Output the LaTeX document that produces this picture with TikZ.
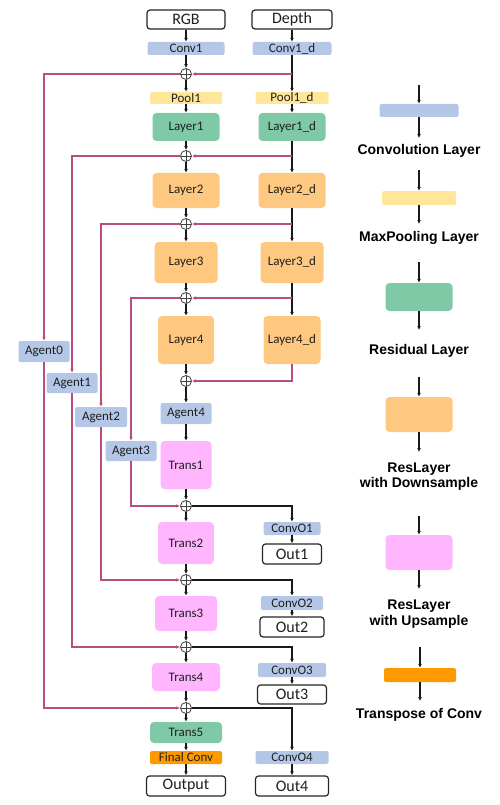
\documentclass[tikz,border=0pt]{standalone}
\usepackage{fontspec}
\setmainfont{Carlito}
\newfontfamily\legfont{Liberation Sans}
\usetikzlibrary{arrows.meta,calc}
\definecolor{cblue}{HTML}{B4C7E7}
\definecolor{cyel}{HTML}{FFE699}
\definecolor{cgreen}{HTML}{80C9A6}
\definecolor{corange}{HTML}{FFC880}
\definecolor{cpink}{HTML}{FFB6FF}
\definecolor{cdark}{HTML}{FF9900}
\definecolor{cmag}{HTML}{B84E80}
\newcommand\nsmall{\fontsize{13}{15}\selectfont}
\newcommand\nbig{\fontsize{16}{18}\selectfont}
\newcommand\nleg{\legfont\bfseries\fontsize{14}{15.5}\selectfont}
\tikzset{
  blk/.style={inner sep=0pt, text=black!88, font=\nsmall},
  convb/.style={blk, fill=cblue, rounded corners=2pt},
  poolb/.style={blk, fill=cyel, rounded corners=1.5pt},
  greenb/.style={blk, fill=cgreen, rounded corners=4pt},
  orangeb/.style={blk, fill=corange, rounded corners=4pt},
  pinkb/.style={blk, fill=cpink, rounded corners=4pt},
  darkb/.style={blk, fill=cdark, rounded corners=1.5pt},
  iob/.style={inner sep=0pt, draw=black!85, line width=1.2pt, rounded corners=3pt, fill=white, font=\nbig, text=black!88},
  plusn/.style={circle, draw=black!75, line width=0.8pt, minimum size=11pt, inner sep=0pt, fill=white,
    path picture={\draw[black!75, line width=0.8pt] (path picture bounding box.north) -- (path picture bounding box.south) (path picture bounding box.west) -- (path picture bounding box.east);}},
  arr/.style={draw=black!90, line width=1.3pt, -{Latex[length=4pt,width=3.8pt]}},
  marr/.style={draw=cmag, line width=1.1pt, -{Latex[length=4pt,width=3.6pt]}},
  legt/.style={font=\nleg, text=black, align=center, inner sep=0pt},
}
\begin{document}
\begin{tikzpicture}[x=1pt,y=-1pt]
\useasboundingbox (0,0) rectangle (500,805);
% main column x=186, depth column x=292
\node[iob, minimum width=78pt, minimum height=19pt] (RGB) at (186,19.5) {RGB};
\node[iob, minimum width=80pt, minimum height=19pt] (Depth) at (292,19.5) {Depth};
\node[convb, minimum width=77pt, minimum height=13pt] (Conv1) at (186,48.5) {Conv1};
\node[convb, minimum width=79pt, minimum height=13pt] (Conv1d) at (292,48.5) {Conv1\_d};
\node[plusn] (p1) at (186,74) {};
\node[poolb, minimum width=72pt, minimum height=12pt] (Pool1) at (186,98) {Pool1};
\node[poolb, minimum width=73pt, minimum height=12pt] (Pool1d) at (292,98) {Pool1\_d};
\node[greenb, minimum width=67pt, minimum height=28pt] (L1) at (186,127) {Layer1};
\node[greenb, minimum width=67pt, minimum height=28pt] (L1d) at (292,127) {Layer1\_d};
\node[plusn] (p2) at (186,156) {};
\node[orangeb, minimum width=67pt, minimum height=35pt] (L2) at (186,190.5) {Layer2};
\node[orangeb, minimum width=67pt, minimum height=35pt] (L2d) at (292,190.5) {Layer2\_d};
\node[plusn] (p3) at (186,224) {};
\node[orangeb, minimum width=63pt, minimum height=41pt] (L3) at (186,262.5) {Layer3};
\node[orangeb, minimum width=63pt, minimum height=41pt] (L3d) at (292,262.5) {Layer3\_d};
\node[plusn] (p4) at (186,298) {};
\node[orangeb, minimum width=56pt, minimum height=48pt] (L4) at (186,340) {Layer4};
\node[orangeb, minimum width=57pt, minimum height=48pt] (L4d) at (292,340) {Layer4\_d};
\node[plusn] (p5) at (186,381) {};
\node[convb, minimum width=51pt, minimum height=21pt] (A4) at (186,413.5) {Agent4};
\node[convb, minimum width=51pt, minimum height=21pt] (A0) at (44,351.5) {Agent0};
\node[convb, minimum width=51pt, minimum height=20pt] (A1) at (72,383) {Agent1};
\node[convb, minimum width=52pt, minimum height=20pt] (A2) at (101,417) {Agent2};
\node[convb, minimum width=51pt, minimum height=20pt] (A3) at (131,451) {Agent3};
\node[pinkb, minimum width=51pt, minimum height=48pt] (T1) at (186,465) {Trans1};
\node[plusn] (p6) at (186,506) {};
\node[pinkb, minimum width=56pt, minimum height=42pt] (T2) at (186,543) {Trans2};
\node[convb, minimum width=57pt, minimum height=13pt] (O1c) at (292,528.5) {ConvO1};
\node[iob, minimum width=59pt, minimum height=20pt] (O1) at (292,554) {Out1};
\node[plusn] (p7) at (186,580) {};
\node[pinkb, minimum width=62pt, minimum height=35pt] (T3) at (186,613.5) {Trans3};
\node[convb, minimum width=62pt, minimum height=14pt] (O2c) at (292,603) {ConvO2};
\node[iob, minimum width=64pt, minimum height=20pt] (O2) at (292,627) {Out2};
\node[plusn] (p8) at (186,647) {};
\node[pinkb, minimum width=68pt, minimum height=28pt] (T4) at (186,677) {Trans4};
\node[convb, minimum width=68pt, minimum height=14pt] (O3c) at (292,670) {ConvO3};
\node[iob, minimum width=69pt, minimum height=19pt] (O3) at (292,694.5) {Out3};
\node[plusn] (p9) at (186,708) {};
\node[greenb, minimum width=72pt, minimum height=21pt] (T5) at (186,732.5) {Trans5};
\node[darkb, minimum width=72pt, minimum height=13pt] (FC) at (186,757.5) {Final Conv};
\node[iob, minimum width=79pt, minimum height=20pt] (Out) at (186,786) {Output};
\node[convb, minimum width=73pt, minimum height=13pt] (O4c) at (292,757.5) {ConvO4};
\node[iob, minimum width=73pt, minimum height=20pt] (O4) at (292,786) {Out4};

% main column arrows
\foreach \a/\b in {RGB/Conv1, Conv1/p1, p1/Pool1, Pool1/L1, L1/p2, p2/L2, L2/p3, p3/L3, L3/p4, p4/L4, L4/p5, p5/A4, A4/T1, T1/p6, p6/T2, T2/p7, p7/T3, T3/p8, p8/T4, T4/p9, p9/T5, T5/FC, FC/Out}
  \draw[arr] (\a) -- (\b);
% depth column arrows
\foreach \a/\b in {Depth/Conv1d, Conv1d/Pool1d, Pool1d/L1d, L1d/L2d, L2d/L3d, L3d/L4d, O1c/O1, O2c/O2, O3c/O3, O4c/O4}
  \draw[arr] (\a) -- (\b);

% fusion from depth
\draw[marr] (Conv1d |- p1) -- (p1.east);
\draw[marr] (L1d |- p2) -- (p2.east);
\draw[marr] (L2d |- p3) -- (p3.east);
\draw[marr] (L3d |- p4) -- (p4.east);
\draw[marr] (L4d.south) |- (p5.east);
% to agents
\draw[marr] (p1.west) -| (A0.north);
\draw[marr] (p2.west) -| (A1.north);
\draw[marr] (p3.west) -| (A2.north);
\draw[marr] (p4.west) -| (A3.north);
% agents into decoder
\draw[marr] (A3.south) |- (p6.west);
\draw[marr] (A2.south) |- (p7.west);
\draw[marr] (A1.south) |- (p8.west);
\draw[marr] (A0.south) |- (p9.west);
% side outputs
\draw[arr] (p6.east) -| (O1c.north);
\draw[arr] (p7.east) -| (O2c.north);
\draw[arr] (p8.east) -| (O3c.north);
\draw[arr] (p9.east) -| (O4c.north);

% legend
\coordinate (la1) at (419,85);
\node[convb, minimum width=79pt, minimum height=13pt] (lb1) at (419,110.5) {};
\coordinate (lc1) at (419,138);
\node[legt] (lt1) at (419,151) {Convolution Layer};
\coordinate (la2) at (419,170);
\node[poolb, minimum width=74pt, minimum height=14pt] (lb2) at (419,198) {};
\coordinate (lc2) at (419,224);
\node[legt] (lt2) at (419,238) {MaxPooling Layer};
\coordinate (la3) at (419,262);
\node[greenb, minimum width=67pt, minimum height=28pt] (lb3) at (419,297) {};
\coordinate (lc3) at (419,330);
\node[legt] (lt3) at (419,351) {Residual Layer};
\coordinate (la4) at (419,377);
\node[orangeb, minimum width=67pt, minimum height=35pt] (lb4) at (419,414.5) {};
\coordinate (lc4) at (419,452);
\node[legt] (lt4) at (419,476.5) {ResLayer\\with Downsample};
\coordinate (la5) at (419,516);
\node[pinkb, minimum width=67pt, minimum height=35pt] (lb5) at (419,552.5) {};
\coordinate (lc5) at (419,589);
\node[legt] (lt5) at (419,614) {ResLayer\\with Upsample};
\coordinate (la6) at (420,647);
\node[darkb, minimum width=72pt, minimum height=14pt] (lb6) at (420,675) {};
\coordinate (lc6) at (420,701);
\node[legt] (lt6) at (419,715) {Transpose of Conv};
\foreach \i in {1,...,6}{
  \draw[arr] (la\i) -- (lb\i.north);
  \draw[arr] (lb\i.south) -- (lc\i);
}
\end{tikzpicture}
\end{document}
